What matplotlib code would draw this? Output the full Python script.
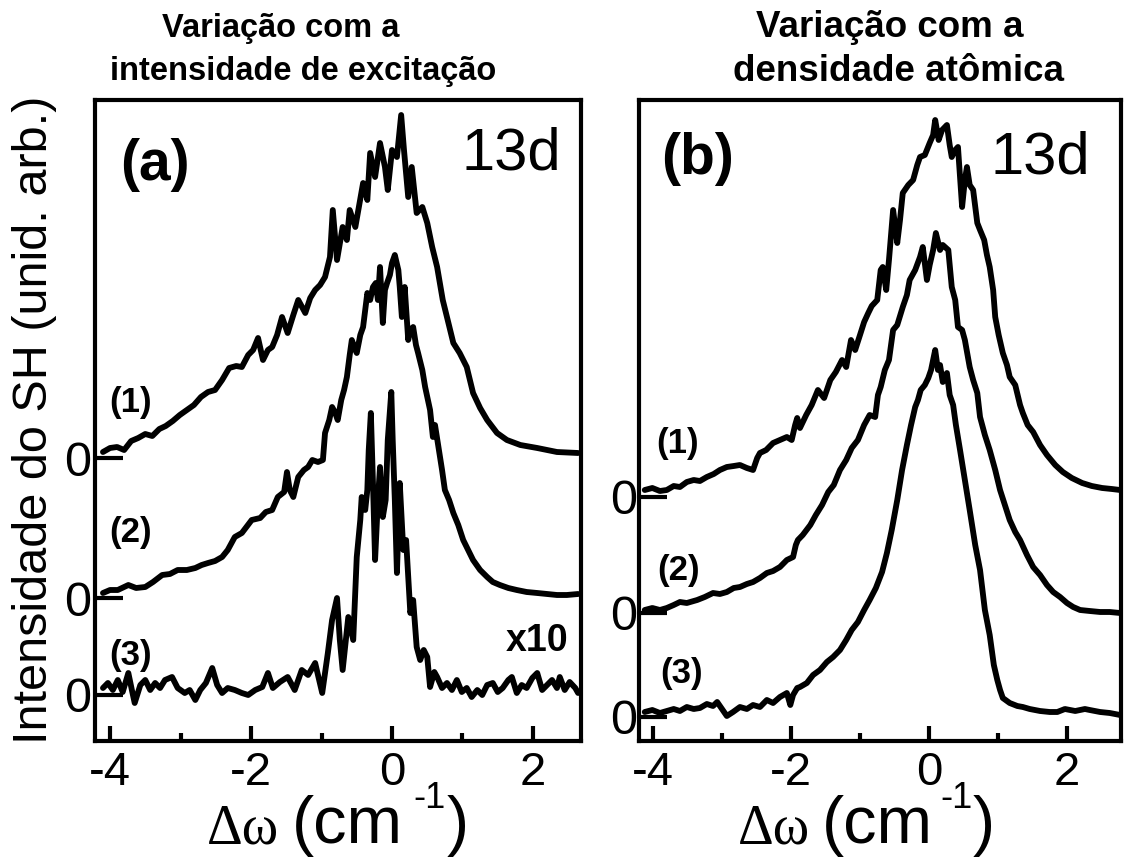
import matplotlib
matplotlib.use("Agg")
import matplotlib.pyplot as plt
from matplotlib.ticker import FixedLocator

plt.rcParams['font.family'] = ['Liberation Sans', 'DejaVu Sans']

# ---------------- data (x in cm^-1, intensity in arb. units above each trace's zero) ----------------
a1_x = [-4.10, -4.00, -3.90, -3.80, -3.70, -3.60, -3.50, -3.40, -3.30, -3.21, -3.11, -3.01, -2.91, -2.81,
        -2.71, -2.61, -2.51, -2.41, -2.31, -2.21, -2.13, -2.04, -1.97, -1.90, -1.83, -1.76, -1.70, -1.63,
        -1.56, -1.48, -1.40, -1.33, -1.23, -1.16, -1.09, -1.02, -0.95, -0.88, -0.84, -0.78, -0.70, -0.64,
        -0.60, -0.52, -0.41, -0.35, -0.31, -0.24, -0.17, -0.10, -0.06, 0.00, 0.07, 0.13, 0.17, 0.23, 0.28,
        0.35, 0.43, 0.50, 0.57, 0.64, 0.72, 0.79, 0.87, 0.96, 1.06, 1.15, 1.25, 1.35, 1.49, 1.63, 1.82,
        2.06, 2.34, 2.64]
a1_y = [6, 10, 11, 8, 17, 20, 24, 22, 29, 32, 37, 43, 48, 53,
        61, 66, 68, 78, 90, 92, 91, 103, 108, 120, 98, 108, 111, 123,
        141, 125, 143, 158, 145, 160, 168, 173, 181, 201, 248, 198, 231, 218,
        248, 231, 275, 258, 305, 281, 315, 291, 268, 308, 301, 343, 308, 261, 291,
        245, 251, 235, 211, 191, 158, 138, 115, 105, 91, 65, 50, 38, 25, 18, 13,
        10, 6, 5]

a2_x = [-4.10, -4.00, -3.89, -3.74, -3.63, -3.50, -3.39, -3.26, -3.15, -3.04, -2.91, -2.79, -2.70, -2.61,
        -2.51, -2.41, -2.33, -2.23, -2.13, -1.99, -1.87, -1.79, -1.70, -1.62, -1.53, -1.49, -1.45, -1.40,
        -1.33, -1.25, -1.19, -1.13, -1.05, -0.98, -0.95, -0.89, -0.85, -0.81, -0.77, -0.72, -0.68, -0.64,
        -0.60, -0.57, -0.52, -0.50, -0.45, -0.41, -0.38, -0.35, -0.31, -0.27, -0.23, -0.20, -0.17, -0.13,
        -0.10, -0.07, -0.03, 0.00, 0.04, 0.09, 0.11, 0.14, 0.18, 0.23, 0.26, 0.30, 0.34, 0.37, 0.43, 0.47,
        0.54, 0.58, 0.61, 0.65, 0.71, 0.75, 0.81, 0.87, 0.94, 1.01, 1.08, 1.15, 1.25, 1.35, 1.43, 1.53,
        1.65, 1.77, 1.91, 2.06, 2.20, 2.34, 2.48, 2.64]
a2_y = [5, 8, 8, 13, 10, 11, 16, 23, 24, 28, 28, 30, 33, 35,
        37, 41, 48, 61, 65, 78, 80, 86, 88, 101, 106, 126, 108, 101,
        121, 128, 131, 138, 136, 138, 165, 178, 191, 186, 178, 198, 208, 221,
        243, 258, 248, 245, 263, 271, 288, 305, 298, 311, 315, 298, 331, 275,
        308, 315, 323, 335, 343, 328, 311, 281, 311, 258, 268, 271, 253, 245, 228, 211,
        188, 161, 173, 155, 128, 108, 98, 85, 73, 58, 48, 38, 28, 21, 16, 13,
        10, 8, 6, 5, 4, 3, 3, 4]

a3_x = [-4.10, -4.03, -3.96, -3.89, -3.82, -3.74, -3.69, -3.65, -3.57, -3.50, -3.43, -3.36, -3.29, -3.22,
        -3.12, -3.04, -2.94, -2.87, -2.79, -2.72, -2.64, -2.55, -2.48, -2.41, -2.33, -2.23, -2.13, -2.04,
        -1.94, -1.84, -1.76, -1.69, -1.59, -1.48, -1.38, -1.28, -1.19, -1.09, -0.99, -0.91, -0.85, -0.78,
        -0.74, -0.70, -0.62, -0.55, -0.50, -0.45, -0.43, -0.38, -0.35, -0.33, -0.30, -0.27, -0.24, -0.20,
        -0.17, -0.13, -0.09, -0.06, -0.01, 0.01, 0.04, 0.07, 0.11, 0.16, 0.20, 0.26, 0.30, 0.35, 0.40,
        0.45, 0.50, 0.54, 0.60, 0.64, 0.71, 0.78, 0.85, 0.92, 0.99, 1.06, 1.13, 1.21, 1.28, 1.35, 1.43,
        1.50, 1.57, 1.65, 1.70, 1.77, 1.84, 1.91, 1.99, 2.06, 2.13, 2.20, 2.27, 2.34, 2.38, 2.45, 2.52,
        2.60, 2.64]
a3_y = [7, 12, 5, 15, 3, 22, 5, -8, 10, 15, 5, 12, 7, 15,
        18, 7, 2, 5, -5, 5, 12, 27, 10, 2, 7, 5, 2, 0,
        5, 8, 22, 7, 13, 18, 5, 25, 20, 32, 2, 42, 75, 97,
        55, 25, 78, 55, 138, 175, 198, 185, 205, 245, 282, 212, 135, 195,
        228, 178, 195, 255, 303, 255, 195, 122, 212, 145, 155, 82, 95, 48, 35,
        45, 38, 8, 23, 18, 7, 12, 5, 15, 3, 7, -2, 5, 0, 10, 12,
        3, 7, 15, 18, 2, 10, 7, 17, 22, 5, 10, 15, 7, 18, 5, 13,
        7, 2]

b1_x = [-4.12, -4.01, -3.90, -3.80, -3.70, -3.61, -3.51, -3.41, -3.32, -3.22, -3.12, -3.03, -2.93, -2.83,
        -2.74, -2.64, -2.55, -2.49, -2.45, -2.36, -2.26, -2.16, -2.06, -1.99, -1.94, -1.91, -1.87, -1.78,
        -1.70, -1.61, -1.52, -1.43, -1.35, -1.26, -1.20, -1.13, -1.07, -1.00, -0.94, -0.88, -0.83, -0.75,
        -0.70, -0.67, -0.62, -0.58, -0.52, -0.46, -0.42, -0.38, -0.30, -0.23, -0.17, -0.13, -0.06, 0.01,
        0.06, 0.09, 0.14, 0.19, 0.26, 0.30, 0.33, 0.38, 0.42, 0.48, 0.52, 0.55, 0.59, 0.64, 0.70, 0.74,
        0.80, 0.84, 0.88, 0.93, 0.96, 1.01, 1.07, 1.13, 1.17, 1.25, 1.32, 1.36, 1.43, 1.51, 1.61, 1.71,
        1.83, 1.94, 2.07, 2.22, 2.36, 2.51, 2.65, 2.77]
b1_y = [7, 9, 6, 7, 11, 10, 15, 17, 16, 20, 23, 27, 30, 31,
        32, 29, 27, 39, 44, 47, 54, 57, 60, 57, 72, 79, 69, 82,
        92, 107, 99, 117, 125, 137, 130, 157, 147, 162, 175, 184, 191, 197,
        227, 230, 207, 237, 287, 254, 277, 304, 312, 317, 332, 340, 342, 354,
        362, 377, 357, 367, 372, 352, 340, 347, 350, 290, 317, 330, 312, 307, 274, 267,
        257, 242, 230, 207, 180, 162, 144, 132, 120, 112, 92, 84, 72, 65, 52, 42,
        32, 25, 19, 14, 11, 9, 8, 7]

b2_x = [-4.12, -4.01, -3.90, -3.80, -3.70, -3.61, -3.51, -3.36, -3.25, -3.13, -3.03, -2.93, -2.83, -2.74,
        -2.64, -2.55, -2.45, -2.35, -2.26, -2.16, -2.06, -1.97, -1.93, -1.90, -1.83, -1.72, -1.64, -1.55,
        -1.46, -1.38, -1.29, -1.20, -1.12, -1.03, -0.94, -0.86, -0.78, -0.74, -0.70, -0.64, -0.58, -0.52,
        -0.46, -0.38, -0.32, -0.28, -0.20, -0.13, -0.09, -0.03, 0.01, 0.06, 0.10, 0.16, 0.20, 0.28, 0.33,
        0.38, 0.42, 0.48, 0.52, 0.59, 0.64, 0.70, 0.74, 0.81, 0.88, 0.96, 1.03, 1.10, 1.17, 1.25, 1.32,
        1.42, 1.51, 1.61, 1.71, 1.80, 1.90, 2.00, 2.09, 2.19, 2.33, 2.48, 2.62, 2.77]
b2_y = [3, 5, 3, 5, 8, 11, 10, 13, 16, 20, 19, 21, 25, 26,
        29, 31, 35, 40, 42, 46, 53, 56, 68, 73, 78, 88, 98, 108,
        121, 128, 143, 153, 165, 173, 188, 198, 196, 218, 226, 243, 253, 283,
        288, 306, 318, 333, 343, 356, 366, 333, 348, 363, 380, 363, 368, 363, 326,
        313, 286, 283, 273, 246, 233, 220, 196, 178, 163, 143, 123, 108, 93, 81, 73,
        58, 46, 38, 28, 21, 16, 10, 6, 3, 2, 1, 1, 0]

b3_x = [-4.12, -4.01, -3.90, -3.80, -3.70, -3.61, -3.51, -3.41, -3.32, -3.22, -3.13, -3.07, -3.00, -2.93,
        -2.84, -2.74, -2.64, -2.55, -2.45, -2.35, -2.26, -2.16, -2.06, -2.01, -1.97, -1.91, -1.87, -1.77,
        -1.68, -1.58, -1.48, -1.39, -1.29, -1.20, -1.12, -1.03, -0.94, -0.86, -0.77, -0.68, -0.61, -0.54,
        -0.46, -0.39, -0.32, -0.26, -0.20, -0.16, -0.12, -0.06, -0.01, 0.03, 0.06, 0.09, 0.13, 0.16, 0.20,
        0.26, 0.30, 0.35, 0.39, 0.45, 0.52, 0.59, 0.67, 0.74, 0.81, 0.88, 0.94, 0.99, 1.03, 1.07, 1.17,
        1.28, 1.36, 1.46, 1.61, 1.75, 1.86, 1.97, 2.12, 2.26, 2.33, 2.48, 2.62, 2.77]
b3_y = [5, 7, 4, 6, 8, 6, 10, 8, 9, 13, 11, 15, 8, 1,
        5, 10, 8, 12, 10, 17, 14, 20, 24, 12, 22, 29, 30, 34,
        42, 47, 55, 60, 67, 77, 87, 95, 107, 117, 129, 145, 164, 187,
        217, 247, 272, 292, 310, 317, 327, 332, 339, 347, 357, 367, 347, 352, 335,
        344, 322, 312, 292, 267, 237, 207, 172, 147, 107, 82, 52, 37, 27, 19, 14,
        11, 10, 8, 6, 5, 5, 8, 6, 8, 7, 5, 4, 2]

xticks_major = [-4, -2, 0, 2]
xticks_minor = [-3, -1, 1]

# ---------------- layout ----------------
W, H = 1125, 860
fig = plt.figure(figsize=(W / 100, H / 100), dpi=100)

def fx(px):
    return px / W

def fy(py):
    return 1 - py / H

TOP, BOT = 100, 741
axA = fig.add_axes([fx(95), fy(BOT), (581 - 95) / W, (BOT - TOP) / H])
axB = fig.add_axes([fx(639), fy(BOT), (1121 - 639) / W, (BOT - TOP) / H])

offsets_a = [283, 143, 46]
offsets_b = [244, 128, 24]
lw_curve = 4.2

for ax, curves, offs, xl in [
    (axA, [(a1_x, a1_y), (a2_x, a2_y), (a3_x, a3_y)], offsets_a, (-4.213, 2.681)),
    (axB, [(b1_x, b1_y), (b2_x, b2_y), (b3_x, b3_y)], offsets_b, (-4.203, 2.783)),
]:
    for (xs, ys), off in zip(curves, offs):
        ax.plot(xs, [v + off for v in ys], color='black', lw=lw_curve,
                solid_joinstyle='round', solid_capstyle='round')
    ax.set_xlim(*xl)
    ax.set_ylim(0, BOT - TOP)
    for s in ax.spines.values():
        s.set_linewidth(3.0)
    ax.xaxis.set_major_locator(FixedLocator(xticks_major))
    ax.xaxis.set_minor_locator(FixedLocator(xticks_minor))
    ax.set_xticklabels([str(t) for t in xticks_major])
    ax.tick_params(axis='x', which='major', direction='in', length=11, width=3,
                   labelsize=34, pad=7, top=False)
    ax.tick_params(axis='x', which='minor', direction='in', length=6, width=3, top=False)
    ax.set_yticks(offs)
    ax.set_yticklabels(['0'] * len(offs))
    ax.tick_params(axis='y', which='major', direction='in', length=20, width=3,
                   labelsize=35, pad=3, right=False)
    ax.tick_params(axis='y', which='minor', left=False, right=False)

axB.tick_params(axis='y', pad=1)

# ---------------- text ----------------
bold = dict(fontweight='bold', color='black')
fig.text(fx(281), fy(37), 'Variação com a', ha='center', va='baseline', fontsize=23.5, **bold)
fig.text(fx(303), fy(80), 'intensidade de excitação', ha='center', va='baseline', fontsize=23.5, **bold)
fig.text(fx(890), fy(37), 'Variação com a', ha='center', va='baseline', fontsize=26.5, **bold)
fig.text(fx(898), fy(81), 'densidade atômica', ha='center', va='baseline', fontsize=26.5, **bold)

fig.text(fx(155), fy(180), '(a)', ha='center', va='baseline', fontsize=41, **bold)
fig.text(fx(698), fy(174), '(b)', ha='center', va='baseline', fontsize=41, **bold)
fig.text(fx(511), fy(170), '13d', ha='center', va='baseline', fontsize=43)
fig.text(fx(1040), fy(174), '13d', ha='center', va='baseline', fontsize=43)

for (px, py, s) in [(131, 412, '(1)'), (131, 542, '(2)'), (131, 665, '(3)'),
                    (678, 453, '(1)'), (679, 580, '(2)'), (682, 683, '(3)')]:
    fig.text(fx(px), fy(py), s, ha='center', va='baseline', fontsize=25, **bold)
fig.text(fx(537), fy(651), 'x10', ha='center', va='baseline', fontsize=27, **bold)

# x labels (Δω in serif, rest in sans)
for (x0, xc, xs, xp) in [(207, 292, 413, 447), (738, 822, 940, 973)]:
    fig.text(fx(x0), fy(843), 'Δω', ha='left', va='baseline', fontsize=40,
             family=['Liberation Serif', 'DejaVu Serif'])
    fig.text(fx(xc), fy(843), '(cm', ha='left', va='baseline', fontsize=48)
    fig.text(fx(xs), fy(808), '-1', ha='left', va='baseline', fontsize=26)
    fig.text(fx(xp), fy(843), ')', ha='left', va='baseline', fontsize=48)

fig.text(fx(35), fy(420), 'Intensidade do SH (unid. arb.)', rotation=90,
         ha='center', va='center', fontsize=35)

fig.savefig('out.png', dpi=100)
